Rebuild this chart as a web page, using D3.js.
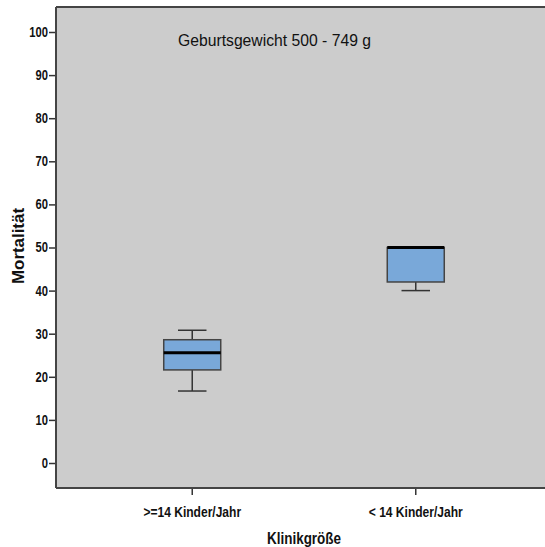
<!DOCTYPE html>
<html><head><meta charset="utf-8">
<script src="https://cdn.jsdelivr.net/npm/d3@7"></script>
<style>
html,body{margin:0;padding:0;background:#fff;overflow:hidden}
svg{display:block}
text{font-family:"Liberation Sans Narrow","Arial Narrow","Liberation Sans",Arial,sans-serif}
</style></head>
<body>
<script>
const categories = [">=14 Kinder/Jahr", "< 14 Kinder/Jahr"];
const whiskerLow = [16.7, 40.0];
const q1 = [21.6, 42.0];
const medians = [25.6, 50.0];
const q3 = [28.6, 50.0];
const whiskerHigh = [30.8, 50.0];
const yTicks = [0, 10, 20, 30, 40, 50, 60, 70, 80, 90, 100];
const title = "Geburtsgewicht 500 - 749 g";
const xTitle = "Klinikgröße";
const yTitle = "Mortalität";

const W = 545, H = 547;
const mLeft = 56, mRight = 552, mTop = 7, mBottom = 488;

const svg = d3.select("body").append("svg").attr("width", W).attr("height", H);

function squeeze(sel, factor) {
  sel.each(function () {
    const w = this.getComputedTextLength();
    d3.select(this).attr("textLength", w * factor).attr("lengthAdjust", "spacingAndGlyphs");
  });
}

const y = d3.scaleLinear().domain([-5.8, 105.8]).range([mBottom, mTop]);
const x = d3.scaleBand().domain(categories).range([mLeft, mRight]).paddingInner(0.745).paddingOuter(0.482);

svg.append("rect").attr("x", mLeft).attr("y", mTop).attr("width", mRight - mLeft).attr("height", mBottom - mTop)
  .attr("fill", "#cccccc");

const data = categories.map((c, i) => ({c, lo: whiskerLow[i], q1: q1[i], med: medians[i], q3: q3[i], hi: whiskerHigh[i]}));
const bw = x.bandwidth();
const g = svg.append("g");
data.forEach(d => {
  const cx = x(d.c) + bw / 2;
  const cap = bw / 2;
  const s = "#333";
  g.append("line").attr("x1", cx).attr("x2", cx).attr("y1", y(d.q3)).attr("y2", y(d.hi)).attr("stroke", s).attr("stroke-width", 1.5);
  g.append("line").attr("x1", cx).attr("x2", cx).attr("y1", y(d.q1)).attr("y2", y(d.lo)).attr("stroke", s).attr("stroke-width", 1.5);
  if (d.hi > d.q3) g.append("line").attr("x1", cx - cap / 2).attr("x2", cx + cap / 2).attr("y1", y(d.hi)).attr("y2", y(d.hi)).attr("stroke", s).attr("stroke-width", 1.5);
  if (d.lo < d.q1) g.append("line").attr("x1", cx - cap / 2).attr("x2", cx + cap / 2).attr("y1", y(d.lo)).attr("y2", y(d.lo)).attr("stroke", s).attr("stroke-width", 1.5);
  g.append("rect").attr("x", x(d.c)).attr("y", y(d.q3)).attr("width", bw).attr("height", y(d.q1) - y(d.q3))
    .attr("fill", "#79a8d9").attr("stroke", "#444").attr("stroke-width", 1.5);
  g.append("line").attr("x1", x(d.c)).attr("x2", x(d.c) + bw).attr("y1", y(d.med)).attr("y2", y(d.med))
    .attr("stroke", "#000").attr("stroke-width", 3);
});

const yAxis = svg.append("g").attr("transform", `translate(${mLeft},0)`)
  .call(d3.axisLeft(y).tickValues(yTicks).tickSize(7).tickPadding(1));
yAxis.select(".domain").remove();
yAxis.selectAll(".tick line").attr("stroke", "#333").attr("stroke-width", 1.5);
yAxis.selectAll(".tick text").attr("font-size", 14).attr("font-weight", "bold").attr("fill", "#111");
squeeze(yAxis.selectAll(".tick text"), 0.8);

const xAxis = svg.append("g").attr("transform", `translate(0,${mBottom})`)
  .call(d3.axisBottom(x).tickSize(7).tickPadding(12));
xAxis.select(".domain").remove();
xAxis.selectAll(".tick line").attr("stroke", "#333").attr("stroke-width", 1.5);
xAxis.selectAll(".tick text").attr("font-size", 14).attr("font-weight", "bold").attr("fill", "#111");
squeeze(xAxis.selectAll(".tick text"), 0.86);

svg.append("line").attr("x1", mLeft).attr("x2", mLeft).attr("y1", mTop).attr("y2", mBottom).attr("stroke", "#444").attr("stroke-width", 2);
svg.append("line").attr("x1", mLeft).attr("x2", mRight).attr("y1", mBottom).attr("y2", mBottom).attr("stroke", "#444").attr("stroke-width", 2);
svg.append("line").attr("x1", mLeft).attr("x2", mRight).attr("y1", mTop).attr("y2", mTop).attr("stroke", "#444").attr("stroke-width", 2);

const t = svg.append("text").attr("x", 178).attr("y", 46).attr("font-size", 17).attr("fill", "#111").text(title);
t.attr("textLength", 193).attr("lengthAdjust", "spacingAndGlyphs");
const xt = svg.append("text").attr("x", (mLeft + mRight) / 2).attr("y", 544).attr("text-anchor", "middle")
  .attr("font-size", 16).attr("font-weight", "bold").attr("fill", "#111").text(xTitle);
xt.attr("textLength", 74).attr("lengthAdjust", "spacingAndGlyphs");
const yt = svg.append("text").attr("transform", `translate(24,246) rotate(-90)`).attr("text-anchor", "middle")
  .attr("font-size", 16).attr("font-weight", "bold").attr("fill", "#111").text(yTitle);
yt.attr("textLength", 76).attr("lengthAdjust", "spacingAndGlyphs");
</script>
</body></html>
